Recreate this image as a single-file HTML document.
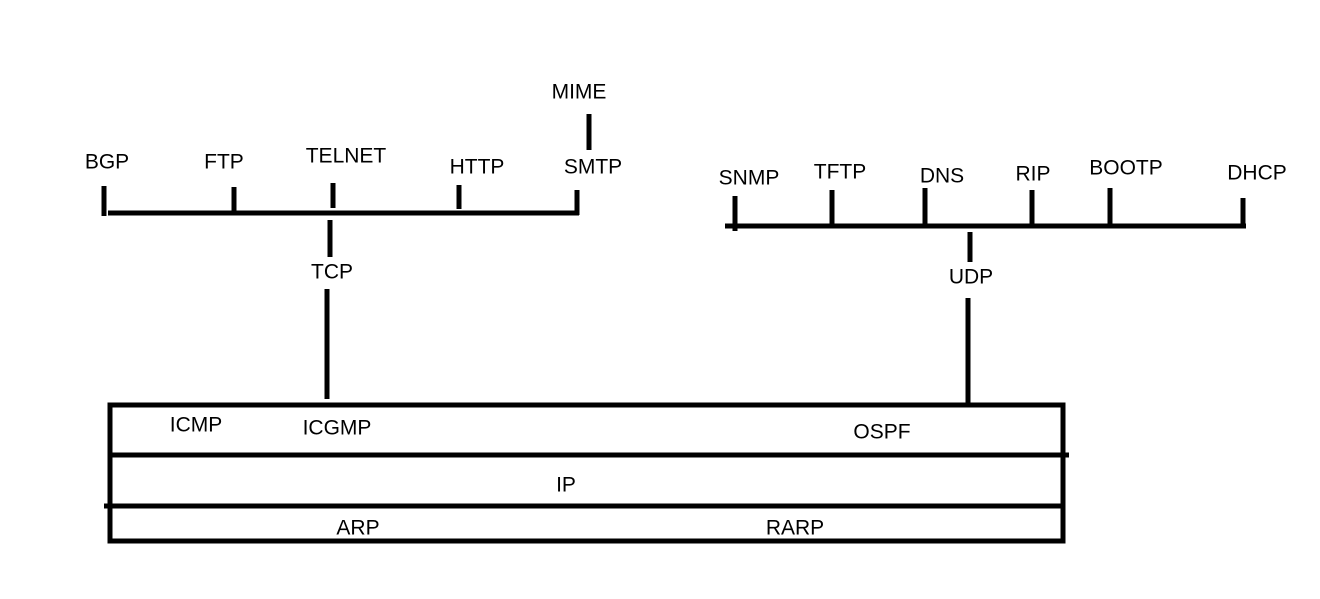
<!DOCTYPE html>
<html><head><style>html,body{margin:0;padding:0;background:#fff;}</style></head><body>
<svg width="1320" height="594" viewBox="0 0 1320 594" xmlns="http://www.w3.org/2000/svg">
<rect width="1320" height="594" fill="#fff"/>
<g stroke="#000" stroke-width="5" fill="none">
<line x1="108" y1="213" x2="579" y2="213"/>
<line x1="104" y1="186" x2="104" y2="216"/>
<line x1="234" y1="187" x2="234" y2="213"/>
<line x1="333" y1="183" x2="333" y2="208"/>
<line x1="459" y1="185" x2="459" y2="209"/>
<line x1="577" y1="190" x2="577" y2="215"/>
<line x1="589" y1="114" x2="589" y2="150"/>
<line x1="330" y1="220" x2="330" y2="257"/>
<line x1="327" y1="289" x2="327" y2="399"/>
<line x1="725" y1="226" x2="1246" y2="226"/>
<line x1="735" y1="196" x2="735" y2="231"/>
<line x1="832" y1="190" x2="832" y2="226"/>
<line x1="925" y1="188" x2="925" y2="226"/>
<line x1="1032" y1="190" x2="1032" y2="226"/>
<line x1="1110" y1="188" x2="1110" y2="226"/>
<line x1="1243" y1="198" x2="1243" y2="228"/>
<line x1="970" y1="232" x2="970" y2="262"/>
<line x1="968" y1="298" x2="968" y2="404"/>
<rect x="110" y="405" width="953" height="136"/>
<line x1="110" y1="455" x2="1069" y2="455"/>
<line x1="104" y1="506" x2="1063" y2="506"/>
</g>
<g font-family="Liberation Sans, sans-serif" font-size="21" fill="#000" text-anchor="middle" dominant-baseline="central">
<text x="107" y="162">BGP</text>
<text x="224" y="162">FTP</text>
<text x="346" y="156">TELNET</text>
<text x="477" y="167">HTTP</text>
<text x="593" y="167">SMTP</text>
<text x="579" y="92">MIME</text>
<text x="332" y="272">TCP</text>
<text x="749" y="178">SNMP</text>
<text x="840" y="172">TFTP</text>
<text x="942" y="176">DNS</text>
<text x="1033" y="174">RIP</text>
<text x="1126" y="168">BOOTP</text>
<text x="1257" y="173">DHCP</text>
<text x="971" y="277">UDP</text>
<text x="196" y="425">ICMP</text>
<text x="337" y="428">ICGMP</text>
<text x="882" y="432">OSPF</text>
<text x="566" y="485">IP</text>
<text x="358" y="528">ARP</text>
<text x="795" y="528">RARP</text>
</g>
</svg>
</body></html>
